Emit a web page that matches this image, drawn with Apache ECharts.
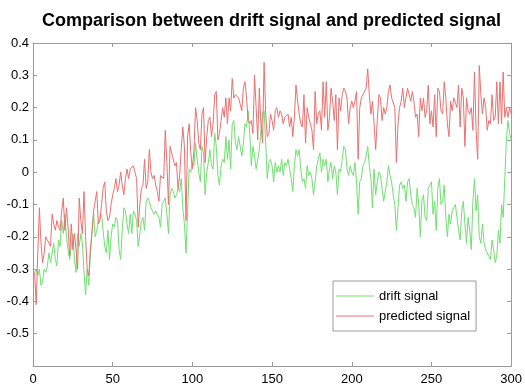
<!DOCTYPE html>
<html>
<head>
<meta charset="utf-8">
<title>drift vs predicted</title>
<style>
  html, body { margin: 0; padding: 0; background: #fff; }
  #main { width: 525px; height: 388px; }
</style>
</head>
<body>
<div id="main"></div>
<script src="https://cdn.jsdelivr.net/npm/echarts@6/dist/echarts.min.js"></script>
<script>
// samples 1..300
var drift = [
  -0.31,-0.30,-0.32,-0.30,-0.35,-0.34,-0.30,-0.31,-0.29,-0.25,-0.28,-0.25,-0.22,-0.27,-0.29,-0.21,-0.23,-0.15,-0.19,-0.13,
  -0.20,-0.24,-0.27,-0.23,-0.19,-0.27,-0.31,-0.19,-0.23,-0.19,-0.22,-0.31,-0.38,-0.30,-0.35,-0.25,-0.18,-0.13,-0.20,-0.18,
  -0.15,-0.14,-0.13,-0.18,-0.23,-0.25,-0.18,-0.27,-0.20,-0.16,-0.17,-0.14,-0.15,-0.24,-0.27,-0.18,-0.11,-0.12,-0.16,-0.19,
  -0.13,
  -0.19,-0.12,-0.13,-0.15,-0.23,-0.19,-0.15,-0.14,-0.18,-0.09,-0.08,-0.09,-0.11,-0.12,-0.13,-0.12,-0.13,-0.14,-0.17,-0.10,
  -0.09,-0.08,-0.13,-0.19,-0.07,-0.05,-0.06,-0.08,-0.07,-0.05,-0.06,-0.02,-0.11,-0.16,-0.25,-0.12,0.01,0.00,0.03,0.02,
  0.09,0.04,0.00,-0.03,0.08,0.06,-0.07,0.00,0.03,0.07,0.02,0.01,0.12,0.08,-0.01,-0.04,0.02,0.04,0.03,0.11,
  0.04,
  0.10,0.01,0.15,0.16,0.09,0.07,0.11,0.08,0.05,0.09,0.15,0.14,0.19,0.12,0.02,0.08,0.05,0.01,0.04,0.07,
  0.13,0.18,0.19,0.09,-0.02,0.03,0.04,0.02,-0.03,0.03,0.00,0.02,0.00,0.04,-0.01,0.03,0.02,0.04,0.01,-0.02,
  -0.06,0.02,0.07,0.05,0.07,0.01,-0.03,-0.02,-0.05,0.02,-0.01,0.00,-0.02,-0.07,-0.03,0.02,0.04,0.06,0.00,0.04,
  0.02,
  0.04,-0.03,0.01,0.03,-0.02,0.02,0.00,-0.07,0.01,0.00,0.04,0.08,0.07,0.01,-0.01,0.02,0.00,-0.01,0.03,-0.03,
  -0.13,-0.03,-0.02,0.02,0.03,0.05,0.08,0.02,-0.02,-0.11,0.01,-0.07,-0.03,0.00,-0.01,-0.05,-0.09,-0.09,-0.03,0.02,
  -0.01,-0.03,-0.07,-0.10,-0.18,-0.11,-0.04,-0.03,-0.05,-0.04,-0.09,-0.03,-0.02,-0.07,-0.10,-0.11,-0.14,-0.05,-0.10,-0.20,
  -0.09,
  -0.07,-0.14,-0.15,-0.05,-0.04,-0.03,-0.13,-0.09,-0.18,-0.05,-0.02,-0.10,-0.09,-0.04,-0.14,-0.20,-0.13,-0.16,-0.12,-0.11,
  -0.10,-0.14,-0.18,-0.21,-0.12,-0.09,-0.16,-0.22,-0.14,-0.18,-0.24,-0.09,-0.02,-0.12,-0.07,-0.20,-0.22,-0.16,-0.22,-0.24,
  -0.25,-0.26,-0.27,-0.21,-0.24,-0.28,-0.26,-0.18,-0.22,-0.10,-0.14,-0.02,0.10,0.16,0.12,0.10
];
var predicted = [
  -0.31,-0.41,-0.25,-0.11,-0.22,-0.28,-0.25,-0.20,-0.21,-0.22,-0.23,-0.13,-0.16,-0.18,-0.15,-0.17,-0.18,-0.12,-0.08,-0.18,
  -0.11,-0.17,-0.26,-0.16,-0.24,-0.19,-0.24,-0.30,-0.08,-0.15,-0.19,-0.06,-0.20,-0.30,-0.32,-0.24,-0.19,-0.12,-0.09,-0.06,
  -0.16,-0.15,-0.10,-0.05,-0.03,-0.12,-0.15,-0.14,-0.10,-0.07,-0.05,-0.02,-0.06,-0.04,0.00,-0.04,-0.07,-0.02,0.01,-0.02,
  0.01,
  0.01,0.02,0.00,-0.02,-0.17,-0.10,-0.05,-0.04,0.04,-0.05,-0.03,0.07,0.00,-0.02,-0.01,-0.04,-0.06,-0.09,-0.01,-0.01,
  -0.02,0.13,0.03,-0.10,0.08,0.06,0.06,0.02,0.03,-0.05,-0.01,0.07,0.14,0.08,-0.15,0.11,0.15,0.06,0.01,0.07,
  0.20,0.16,0.09,0.07,0.18,0.20,0.03,0.11,0.16,0.17,0.11,0.15,0.24,0.25,0.10,0.12,0.16,0.20,0.17,0.23,
  0.15,
  0.23,0.19,0.29,0.23,0.24,0.24,0.23,0.23,0.19,0.26,0.28,0.23,0.16,0.15,0.16,0.12,0.30,0.20,0.10,0.26,
  0.15,0.09,0.34,0.18,0.11,0.12,0.18,0.16,0.13,0.19,0.20,0.17,0.19,0.18,0.15,0.17,0.17,0.18,0.14,0.17,
  0.11,0.17,0.27,0.22,0.18,0.15,0.14,0.24,0.09,0.20,0.17,0.15,0.13,0.07,0.25,0.15,0.18,0.19,0.13,0.28,
  0.17,
  0.28,0.13,0.17,0.26,0.22,0.16,0.24,0.07,0.23,0.19,0.24,0.26,0.25,0.23,0.15,0.20,0.22,0.20,0.22,0.25,
  0.04,0.20,0.23,0.24,0.24,0.26,0.32,0.24,0.18,0.22,0.15,0.07,0.16,0.24,0.23,0.16,0.20,0.18,0.20,0.25,
  0.27,0.23,0.23,0.20,0.03,0.15,0.20,0.22,0.26,0.20,0.23,0.26,0.24,0.22,0.25,0.22,0.17,0.18,0.11,0.23,
  0.19,
  0.23,0.17,0.19,0.27,0.15,0.19,0.14,0.24,0.11,0.26,0.25,0.19,0.18,0.28,0.23,0.15,0.11,0.22,0.19,0.23,
  0.23,0.20,0.27,0.14,0.26,0.23,0.08,0.23,0.19,0.18,0.20,0.13,0.31,0.13,0.04,0.33,0.24,0.18,0.23,0.20,
  0.13,0.16,0.15,0.24,0.16,0.17,0.28,0.15,0.28,0.15,0.31,0.17,0.20,0.17,0.20,0.18
];
var seriesNames = ['drift signal', 'predicted signal'];
var titleText = 'Comparison between drift signal and predicted signal';

var font = 'Liberation Sans';
var frame = '#9a9a9a';
var green = '#70e070';
var red = '#ec7070';

function toPairs(arr) {
  return arr.map(function (v, i) { return [i + 1, v]; });
}

function yLabel(v) {
  if (Math.abs(v + 0.6) < 1e-9) return '';
  return String(Math.round(v * 10) / 10);
}

var boxAxis = {
  axisLine: { show: true, onZero: false, lineStyle: { color: frame, width: 1 } },
  axisTick: { show: true, inside: true, length: 4, lineStyle: { color: frame } },
  splitLine: { show: false }
};

var myChart = echarts.init(document.getElementById('main'));
var option = {
  animation: false,
  backgroundColor: '#fff',
  title: {
    text: titleText,
    left: 37,
    top: 7,
    textStyle: { fontFamily: font, fontWeight: 'bold', fontSize: 18, color: '#000' }
  },
  grid: { left: 33, right: 12, top: 43, bottom: 22 },
  legend: {
    data: seriesNames,
    orient: 'vertical',
    left: 333,
    top: 281,
    padding: [8, 6, 8, 3],
    itemGap: 6,
    itemWidth: 38,
    itemHeight: 1,
    icon: 'rect',
    borderColor: frame,
    borderWidth: 1,
    backgroundColor: '#fff',
    textStyle: { fontFamily: font, fontSize: 13, lineHeight: 14, color: '#000' }
  },
  xAxis: [
    Object.assign({
      type: 'value', min: 0, max: 300, interval: 50, position: 'bottom',
      axisLabel: { color: '#000', fontFamily: font, fontSize: 13, margin: 7 }
    }, boxAxis),
    Object.assign({
      type: 'value', min: 0, max: 300, interval: 50, position: 'top',
      axisLabel: { show: false }
    }, boxAxis)
  ],
  yAxis: [
    Object.assign({
      type: 'value', min: -0.6, max: 0.4, interval: 0.1, position: 'left',
      axisLabel: { color: '#000', fontFamily: font, fontSize: 13, margin: 4, formatter: yLabel }
    }, boxAxis),
    Object.assign({
      type: 'value', min: -0.6, max: 0.4, interval: 0.1, position: 'right',
      axisLabel: { show: false }
    }, boxAxis)
  ],
  series: [
    {
      name: seriesNames[0], type: 'line', symbol: 'none',
      xAxisIndex: 0, yAxisIndex: 0,
      lineStyle: { color: green, width: 1 }, itemStyle: { color: green },
      data: toPairs(drift)
    },
    {
      name: seriesNames[1], type: 'line', symbol: 'none',
      xAxisIndex: 0, yAxisIndex: 0,
      lineStyle: { color: red, width: 1 }, itemStyle: { color: red },
      data: toPairs(predicted)
    }
  ]
};
myChart.setOption(option);
</script>
</body>
</html>
